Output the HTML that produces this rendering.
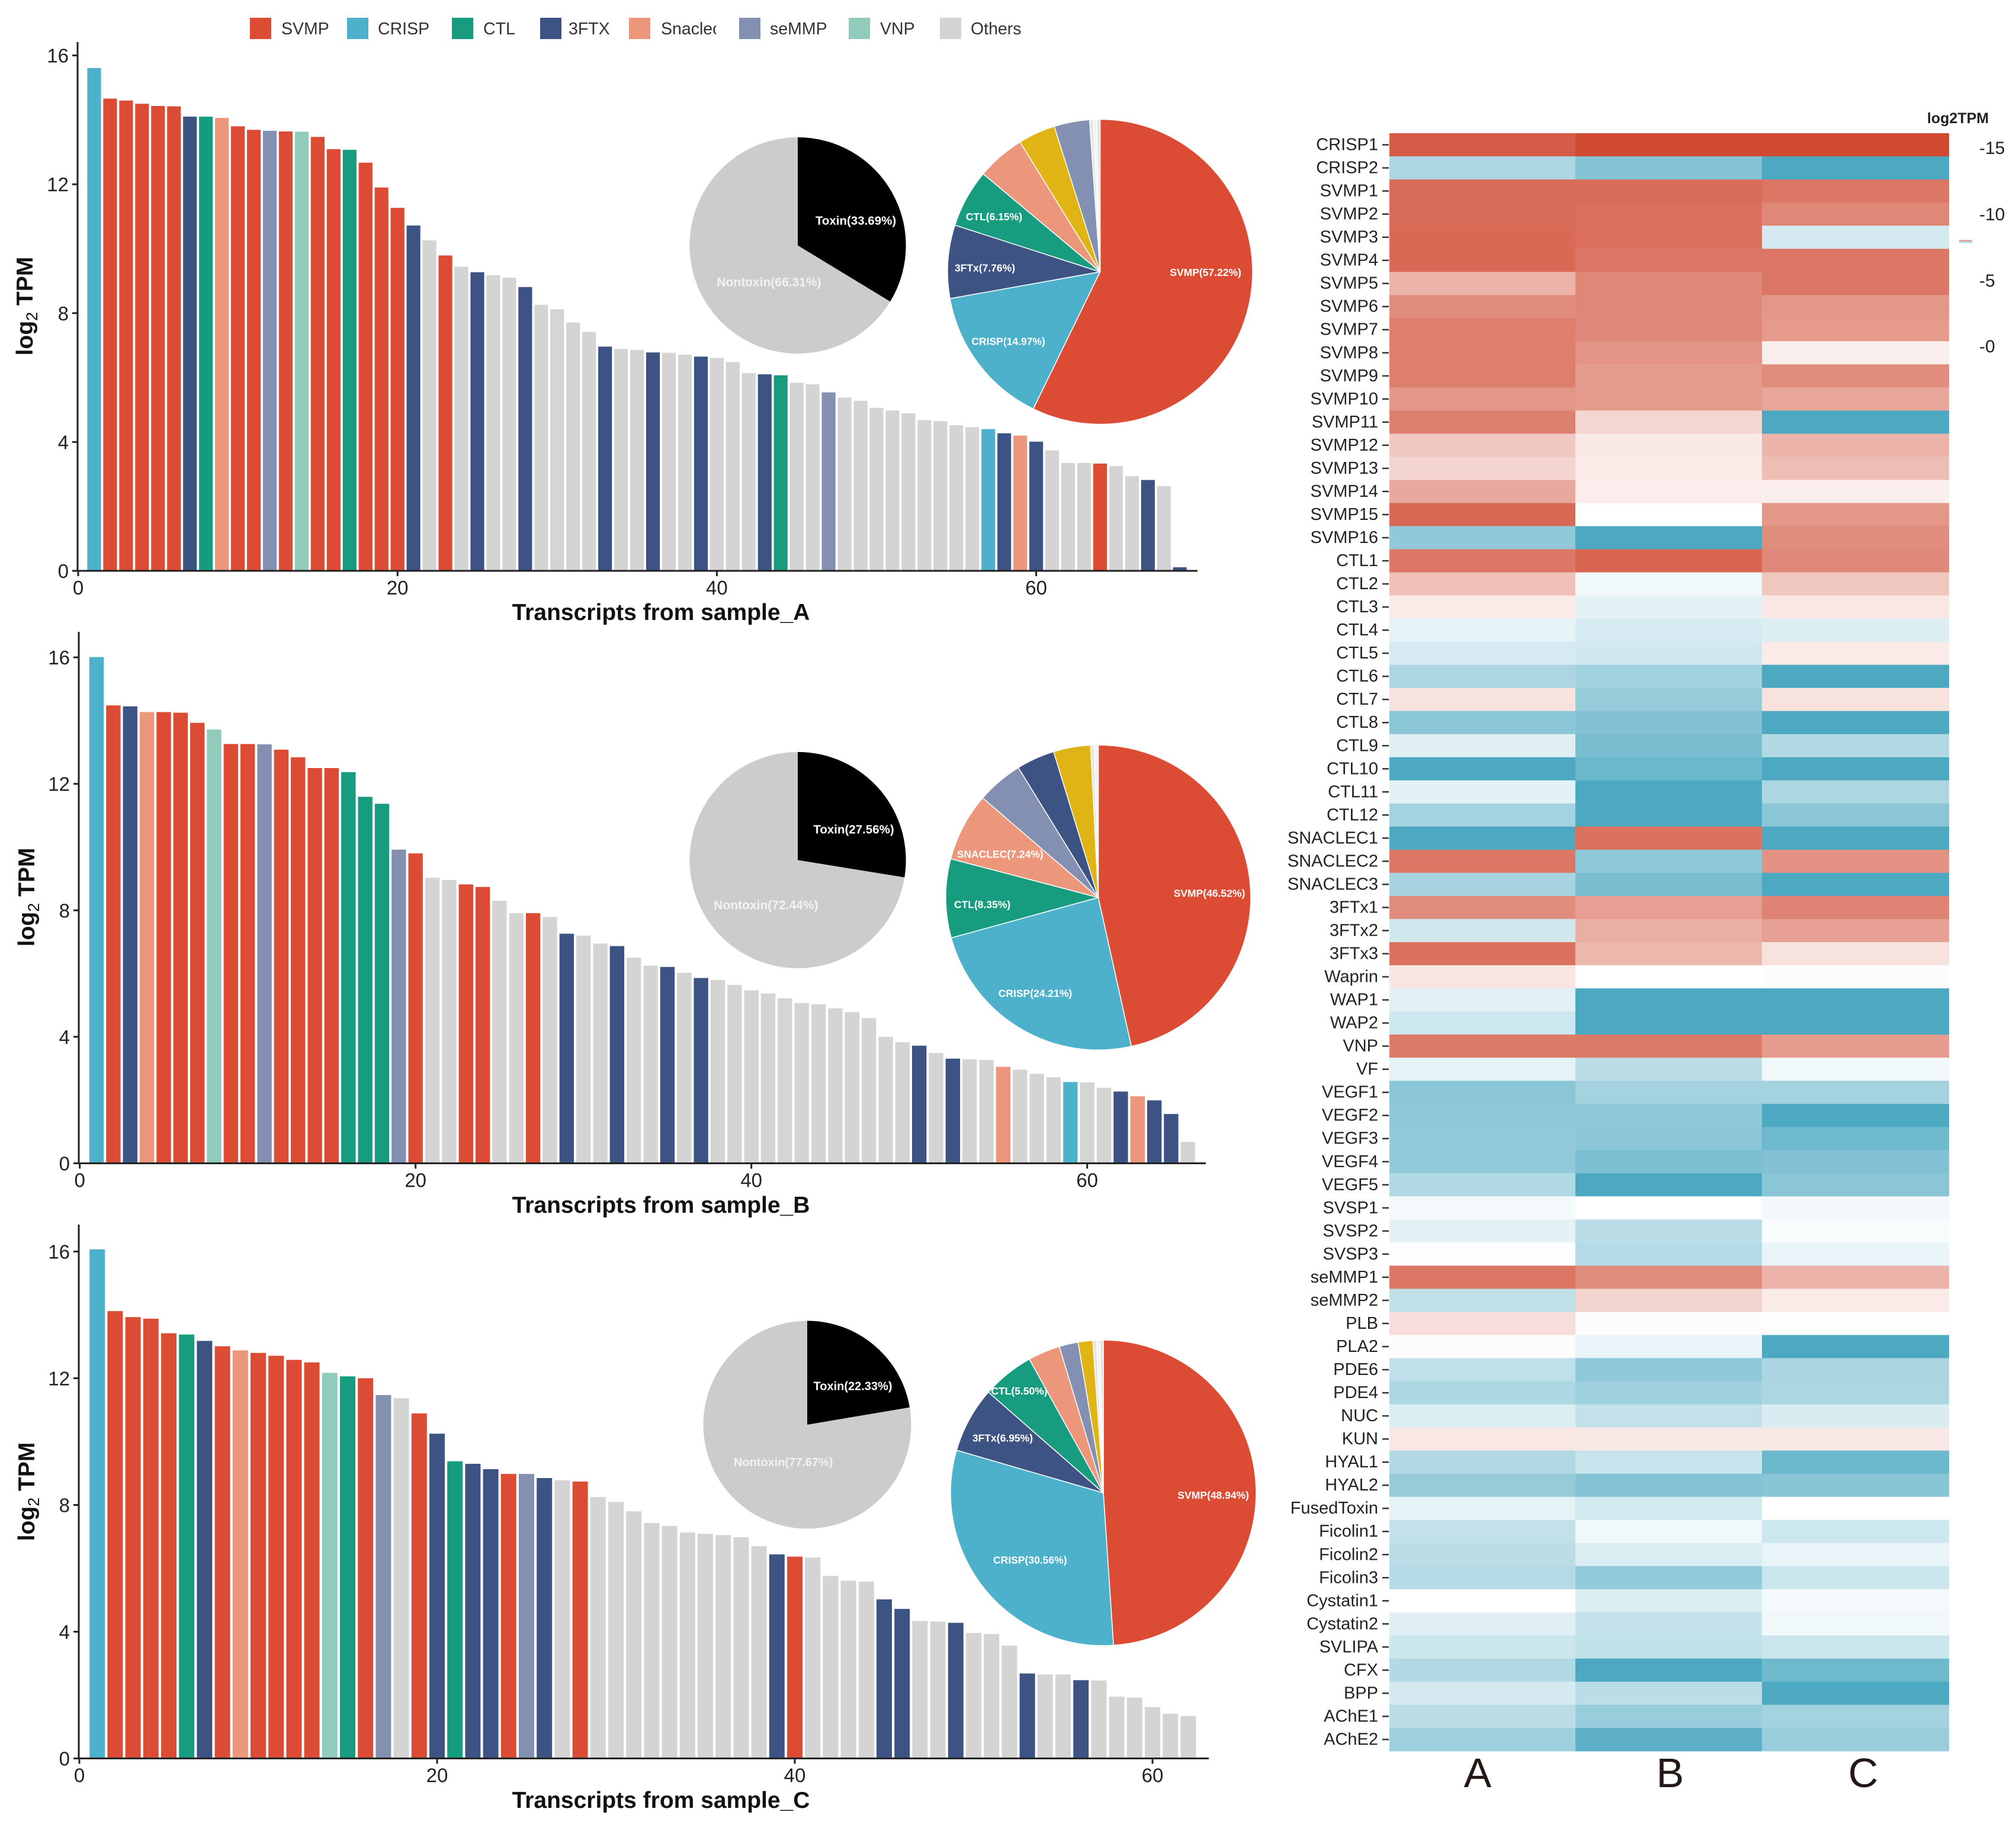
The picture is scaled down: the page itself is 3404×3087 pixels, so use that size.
<!DOCTYPE html>
<html lang="en">
<head>
<meta charset="utf-8">
<title>Venom transcript abundance charts</title>
<style>
html,body{margin:0;padding:0;background:#fff;width:3404px;height:3087px;overflow:hidden}
svg{display:block;font-family:"Liberation Sans",Arial,sans-serif}
</style>
</head>
<body>
<svg id="figure" xmlns="http://www.w3.org/2000/svg" width="3404" height="3087" viewBox="0 0 3404 3087">
  <defs><clipPath id="snaclec-clip"><rect x="1110" y="20" width="99" height="60"/></clipPath></defs>
  <rect width="3404" height="3087" fill="#fff"/>
  <g id="legend" font-size="28.5" fill="#333">
    <g><rect x="422" y="30" width="36" height="36" fill="#dc4c35"/><text x="475" y="58">SVMP</text></g>
    <g><rect x="586" y="30" width="36" height="36" fill="#4eb1cc"/><text x="638" y="58">CRISP</text></g>
    <g><rect x="763" y="30" width="36" height="36" fill="#179c7f"/><text x="816" y="58">CTL</text></g>
    <g><rect x="912" y="30" width="36" height="36" fill="#3d5383"/><text x="960" y="58">3FTX</text></g>
    <g><rect x="1062" y="30" width="36" height="36" fill="#ec967b"/><text x="1116" y="58" clip-path="url(#snaclec-clip)">Snaclec</text></g>
    <g><rect x="1248" y="30" width="36" height="36" fill="#8390b2"/><text x="1300" y="58">seMMP</text></g>
    <g><rect x="1433" y="30" width="36" height="36" fill="#90cbbb"/><text x="1486" y="58">VNP</text></g>
    <g><rect x="1587" y="30" width="36" height="36" fill="#d4d4d4"/><text x="1639" y="58">Others</text></g>
  </g>

  <g font-weight="bold" font-size="39" fill="#111">
    <text x="1116" y="1047" text-anchor="middle">Transcripts from sample_A</text>
    <text x="1116" y="2048" text-anchor="middle">Transcripts from sample_B</text>
    <text x="1116" y="3053" text-anchor="middle">Transcripts from sample_C</text>
    <text transform="translate(55,517) rotate(-90)" text-anchor="middle">log<tspan font-size="27" font-weight="normal" dy="8">2</tspan><tspan dy="-8"> TPM</tspan></text>
    <text transform="translate(58,1515) rotate(-90)" text-anchor="middle">log<tspan font-size="27" font-weight="normal" dy="8">2</tspan><tspan dy="-8"> TPM</tspan></text>
    <text transform="translate(58,2519) rotate(-90)" text-anchor="middle">log<tspan font-size="27" font-weight="normal" dy="8">2</tspan><tspan dy="-8"> TPM</tspan></text>
  </g>

  <g id="charts"></g>
  <g id="pies"></g>
  <g id="heatmap"></g>

  <g fill="#231815" font-size="70" text-anchor="middle">
    <text x="2495" y="3018">A</text>
    <text x="2820" y="3018">B</text>
    <text x="3146" y="3018">C</text>
  </g>
  <g fill="#222">
    <text x="3306" y="208" font-size="25" font-weight="bold" text-anchor="middle">log2TPM</text>
    <rect x="3308" y="405" width="22" height="2.5" fill="#f0a090"/>
    <rect x="3308" y="407.5" width="22" height="3" fill="#a8dce6"/>
    <g font-size="30">
      <text x="3342" y="260">-15</text>
      <text x="3342" y="372">-10</text>
      <text x="3342" y="484">-5</text>
      <text x="3342" y="595">-0</text>
    </g>
  </g>
</svg>
<script>
// ---- Bar chart data ----
const yTickLabels = [0, 4, 8, 12, 16];
const xTickLabels = [0, 20, 40, 60];

const valuesA = [15.61,14.66,14.6,14.5,14.43,14.42,14.1,14.1,14.06,13.8,13.69,13.66,13.64,13.63,13.47,13.09,13.07,12.67,11.9,11.27,10.72,10.26,9.79,9.44,9.27,9.18,9.1,8.81,8.26,8.12,7.71,7.42,6.96,6.89,6.86,6.78,6.77,6.71,6.65,6.61,6.48,6.14,6.1,6.07,5.84,5.79,5.54,5.38,5.28,5.06,4.98,4.89,4.68,4.65,4.52,4.46,4.4,4.27,4.2,4.01,3.74,3.35,3.35,3.33,3.25,2.94,2.82,2.63,0.11];
const typesA = ['CRISP','SVMP','SVMP','SVMP','SVMP','SVMP','3FTX','CTL','Snaclec','SVMP','SVMP','seMMP','SVMP','VNP','SVMP','SVMP','CTL','SVMP','SVMP','SVMP','3FTX','Others','SVMP','Others','3FTX','Others','Others','3FTX','Others','Others','Others','Others','3FTX','Others','Others','3FTX','Others','Others','3FTX','Others','Others','Others','3FTX','CTL','Others','Others','seMMP','Others','Others','Others','Others','Others','Others','Others','Others','Others','CRISP','3FTX','Snaclec','3FTX','Others','Others','Others','SVMP','Others','Others','3FTX','Others','3FTX'];

const valuesB = [16.01,14.48,14.45,14.27,14.27,14.25,13.93,13.72,13.26,13.26,13.25,13.08,12.84,12.5,12.5,12.37,11.59,11.37,9.92,9.8,9.03,8.96,8.82,8.74,8.3,7.91,7.91,7.79,7.26,7.2,6.95,6.87,6.5,6.25,6.21,6.02,5.86,5.8,5.64,5.47,5.37,5.22,5.07,5.03,4.9,4.78,4.59,4.0,3.83,3.72,3.49,3.31,3.29,3.27,3.05,2.96,2.83,2.72,2.57,2.56,2.39,2.27,2.12,1.99,1.56,0.68];
const typesB = ['CRISP','SVMP','3FTX','Snaclec','SVMP','SVMP','SVMP','VNP','SVMP','SVMP','seMMP','SVMP','SVMP','SVMP','SVMP','CTL','CTL','CTL','seMMP','SVMP','Others','Others','SVMP','SVMP','Others','Others','SVMP','Others','3FTX','Others','Others','3FTX','Others','Others','3FTX','Others','3FTX','Others','Others','Others','Others','Others','Others','Others','Others','Others','Others','Others','Others','3FTX','Others','3FTX','Others','Others','Snaclec','Others','Others','Others','CRISP','Others','Others','3FTX','Snaclec','3FTX','3FTX','Others'];

const valuesC = [16.07,14.12,13.93,13.88,13.42,13.38,13.18,13.01,12.88,12.8,12.71,12.58,12.5,12.17,12.06,12.0,11.47,11.37,10.89,10.25,9.38,9.3,9.13,8.98,8.98,8.85,8.78,8.74,8.25,8.1,7.8,7.43,7.34,7.13,7.09,7.05,6.98,6.7,6.44,6.37,6.34,5.76,5.61,5.58,5.02,4.72,4.34,4.32,4.28,3.96,3.93,3.56,2.68,2.65,2.65,2.47,2.46,1.95,1.92,1.62,1.41,1.34];
const typesC = ['CRISP','SVMP','SVMP','SVMP','SVMP','CTL','3FTX','SVMP','Snaclec','SVMP','SVMP','SVMP','SVMP','VNP','CTL','SVMP','seMMP','Others','SVMP','3FTX','CTL','3FTX','3FTX','SVMP','seMMP','3FTX','Others','SVMP','Others','Others','Others','Others','Others','Others','Others','Others','Others','Others','3FTX','SVMP','Others','Others','Others','Others','3FTX','3FTX','Others','Others','3FTX','Others','Others','Others','3FTX','Others','Others','3FTX','Others','Others','Others','Others','Others','Others'];

// ---- Pie chart data ----
const toxinSliceNames = ['Toxin','Nontoxin'];
const toxinSharesA = [33.69, 66.31];
const toxinSharesB = [27.56, 72.44];
const toxinSharesC = [22.33, 77.67];

const compNamesA = ['SVMP','CRISP','3FTx','CTL','SNACLEC','Yellow','seMMP','OtherA','OtherB','OtherC'];
const compSharesA = [57.22,14.97,7.76,6.15,5.1,3.94,3.76,0.4,0.35,0.35];
const compNamesB = ['SVMP','CRISP','CTL','SNACLEC','seMMP','3FTx','Yellow','OtherA','OtherB'];
const compSharesB = [46.52,24.21,8.35,7.24,4.9,4.05,3.93,0.4,0.4];
const compNamesC = ['SVMP','CRISP','3FTx','CTL','SNACLEC','seMMP','Yellow','OtherA','OtherB','OtherC'];
const compSharesC = [48.94,30.56,6.95,5.5,3.4,2.0,1.55,0.4,0.35,0.35];

// ---- Heatmap data (signed intensity: + red, - blue, 0 white) ----
const geneNames = ['CRISP1','CRISP2','SVMP1','SVMP2','SVMP3','SVMP4','SVMP5','SVMP6','SVMP7','SVMP8','SVMP9','SVMP10','SVMP11','SVMP12','SVMP13','SVMP14','SVMP15','SVMP16','CTL1','CTL2','CTL3','CTL4','CTL5','CTL6','CTL7','CTL8','CTL9','CTL10','CTL11','CTL12','SNACLEC1','SNACLEC2','SNACLEC3','3FTx1','3FTx2','3FTx3','Waprin','WAP1','WAP2','VNP','VF','VEGF1','VEGF2','VEGF3','VEGF4','VEGF5','SVSP1','SVSP2','SVSP3','seMMP1','seMMP2','PLB','PLA2','PDE6','PDE4','NUC','KUN','HYAL1','HYAL2','FusedToxin','Ficolin1','Ficolin2','Ficolin3','Cystatin1','Cystatin2','SVLIPA','CFX','BPP','AChE1','AChE2'];
const heatA = [90,-47,81,81,83,83,42,63,71,71,71,58,70,30,24,48,83,-62,75,34,11,-14,-23,-47,16,-66,-18,-100,-16,-51,-100,75,-49,63,-26,78,14,-16,-28,73,-14,-66,-63,-61,-61,-43,-6,-15,-2,75,-35,18,2,-36,-46,-20,13,-44,-59,-14,-34,-39,-41,0,-18,-29,-43,-24,-39,-55];
const heatB = [100,-69,81,79,79,75,66,66,65,59,55,55,23,12,11,10,0,-100,85,-8,-15,-23,-26,-53,-59,-71,-76,-83,-100,-100,78,-63,-76,53,45,40,0,-100,-100,73,-39,-51,-63,-66,-73,-100,0,-39,-41,63,24,2,-13,-63,-54,-34,12,-31,-69,-25,-8,-21,-61,-20,-33,-35,-100,-39,-58,-91];
const heatC = [100,-100,75,66,-24,75,75,58,56,9,63,49,-100,42,36,9,58,63,65,31,13,-19,11,-100,16,-100,-43,-100,-47,-66,-100,61,-100,68,53,16,2,-100,-100,55,-8,-51,-100,-81,-71,-66,-7,-4,-13,42,11,-1,-100,-48,-47,-22,12,-83,-67,0,-28,-13,-29,-6,-8,-29,-81,-100,-51,-57];

// ---- Rendering ----
const NS = 'http://www.w3.org/2000/svg';
const palette = {SVMP:'#dc4c35',CRISP:'#4eb1cc',CTL:'#179c7f','3FTX':'#3d5383','3FTx':'#3d5383',Snaclec:'#ec967b',SNACLEC:'#ec967b',seMMP:'#8390b2',VNP:'#90cbbb',Others:'#d4d4d4',Yellow:'#e0b414',OtherA:'#e6e6e6',OtherB:'#f2f2f2',OtherC:'#e0e0e0',Toxin:'#000000',Nontoxin:'#cccccc'};

function make(parent, tag, attrs, text) {
  const el = document.createElementNS(NS, tag);
  for (const k in attrs) el.setAttribute(k, attrs[k]);
  if (text !== undefined) el.textContent = text;
  parent.appendChild(el);
  return el;
}

function drawBars(key, values, types, g) {
  const root = document.getElementById('charts');
  const panel = make(root, 'g', {});
  
  
  const xScale = v => g.x0 + v * g.xUnit;
  const yScale = v => g.y0 - v * g.yUnit;
  values.forEach((v, i) => {
    const w = g.xUnit * 0.86;
    const bar = make(panel, 'rect', {x: xScale(i + 1) - w / 2, y: yScale(v), width: w, height: g.y0 - yScale(v), fill: palette[types[i]]});
    
    
  });
  const yAxis = make(panel, 'line', {x1: g.axisX, x2: g.axisX, y1: g.axisTop, y2: g.y0 + 1.5, stroke: '#222', 'stroke-width': 3});
  
  
  const xAxis = make(panel, 'line', {x1: g.axisX, x2: g.axisEnd, y1: g.y0, y2: g.y0, stroke: '#222', 'stroke-width': 3});
  
  
  yTickLabels.forEach(t => {
    const tick = make(panel, 'line', {x1: g.axisX - 9, x2: g.axisX, y1: yScale(t), y2: yScale(t), stroke: '#222', 'stroke-width': 3});
    
    
    const label = make(panel, 'text', {x: g.axisX - 15, y: yScale(t) + 12, 'text-anchor': 'end', 'font-size': 33, fill: '#222'}, t);
    
    
  });
  xTickLabels.forEach(t => {
    const tick = make(panel, 'line', {x1: xScale(t), x2: xScale(t), y1: g.y0, y2: g.y0 + 9, stroke: '#222', 'stroke-width': 3});
    
    
    const label = make(panel, 'text', {x: xScale(t), y: g.y0 + 40, 'text-anchor': 'middle', 'font-size': 33, fill: '#222'}, t);
    
    
  });
}

function drawPie(key, names, shares, cx, cy, r, strokeW, labelLayout, fontSize) {
  const root = document.getElementById('pies');
  const pie = make(root, 'g', {});
  
  
  const total = shares.reduce((a, b) => a + b, 0);
  const point = a => [cx + r * Math.sin(a), cy - r * Math.cos(a)];
  let acc = 0;
  shares.forEach((s, i) => {
    const a0 = acc / total * 2 * Math.PI;
    acc += s;
    const a1 = acc / total * 2 * Math.PI;
    const p0 = point(a0), p1 = point(a1);
    const large = a1 - a0 > Math.PI ? 1 : 0;
    const slice = make(pie, 'path', {d: 'M' + cx + ' ' + cy + 'L' + p0[0] + ' ' + p0[1] + 'A' + r + ' ' + r + ' 0 ' + large + ' 1 ' + p1[0] + ' ' + p1[1] + 'Z', fill: palette[names[i]], stroke: strokeW ? '#fff' : 'none', 'stroke-width': strokeW});
    
    
  });
  shares.forEach((s, i) => {
    const pos = labelLayout[names[i]];
    if (!pos) return;
    const size = pos[2] || fontSize;
    const label = make(pie, 'text', {x: pos[0], y: pos[1] + size * 0.36, 'text-anchor': 'middle', 'font-size': size, 'font-weight': 'bold', fill: names[i] === 'Nontoxin' ? '#f2f2f2' : '#fff'}, names[i] + '(' + s.toFixed(2) + '%)');
    
    
  });
}

function heatColor(v) {
  const t = Math.min(1, Math.abs(v) / 100);
  const end = v >= 0 ? [208, 74, 50] : [77, 168, 193];
  const c = end.map(e => Math.round(255 + (e - 255) * t));
  return 'rgb(' + c.join(',') + ')';
}

function drawHeatmap() {
  const root = document.getElementById('heatmap');
  const columns = [heatA, heatB, heatC];
  const columnNames = ['a', 'b', 'c'];
  const edges = [2346, 2660, 2975, 3291];
  const top = 225, rowH = (2957 - 225) / geneNames.length;
  geneNames.forEach((gene, r) => {
    const y = top + r * rowH;
    columns.forEach((col, c) => {
      const cell = make(root, 'rect', {x: edges[c], y: y, width: edges[c + 1] - edges[c], height: rowH + 0.5, fill: heatColor(col[r])});
      
      
    });
    const tick = make(root, 'line', {x1: 2334, x2: 2345, y1: y + rowH / 2, y2: y + rowH / 2, stroke: '#333', 'stroke-width': 2.5});
    
    
    const label = make(root, 'text', {x: 2327, y: y + rowH / 2 + 9, 'text-anchor': 'end', 'font-size': 29, fill: '#222'}, gene);
    
    
  });
}

drawBars('a', valuesA, typesA, {x0: 132, xUnit: 26.96, y0: 964, yUnit: 54.4, axisX: 131, axisTop: 71, axisEnd: 2022});
drawBars('b', valuesB, typesB, {x0: 134.7, xUnit: 28.35, y0: 1964.5, yUnit: 53.4, axisX: 133, axisTop: 1067, axisEnd: 2036});
drawBars('c', valuesC, typesC, {x0: 134, xUnit: 30.2, y0: 2969.5, yUnit: 53.5, axisX: 133, axisTop: 2068, axisEnd: 2041});

drawPie('toxin-a', toxinSliceNames, toxinSharesA, 1347, 414.5, 182.6, 0, {Toxin: [1445, 372, 20.5], Nontoxin: [1298.5, 476, 21]}, 21);
drawPie('toxin-b', toxinSliceNames, toxinSharesB, 1347, 1452.5, 182.6, 0, {Toxin: [1441.5, 1400, 20.5], Nontoxin: [1293.4, 1528, 21]}, 21);
drawPie('toxin-c', toxinSliceNames, toxinSharesC, 1363, 2406, 175.5, 0, {Toxin: [1440, 2340.5, 20], Nontoxin: [1322.7, 2468.7, 20]}, 20);
drawPie('composition-a', compNamesA, compSharesA, 1857.5, 459, 257.5, 1.5, {SVMP: [2035.6, 459.8], CRISP: [1702.6, 576], '3FTx': [1663, 452.3], CTL: [1678.4, 365.8]}, 17.5);
drawPie('composition-b', compNamesB, compSharesB, 1854.4, 1515.6, 257.5, 1.5, {SVMP: [2042, 1508.4], CRISP: [1748, 1677], CTL: [1658.6, 1527.3], SNACLEC: [1688.7, 1442]}, 17.5);
drawPie('composition-c', compNamesC, compSharesC, 1863, 2521, 258, 1.5, {SVMP: [2048.7, 2524.8], CRISP: [1739.3, 2634], '3FTx': [1693, 2428], CTL: [1721, 2348.5]}, 17.5);

drawHeatmap();
</script>
</body>
</html>
